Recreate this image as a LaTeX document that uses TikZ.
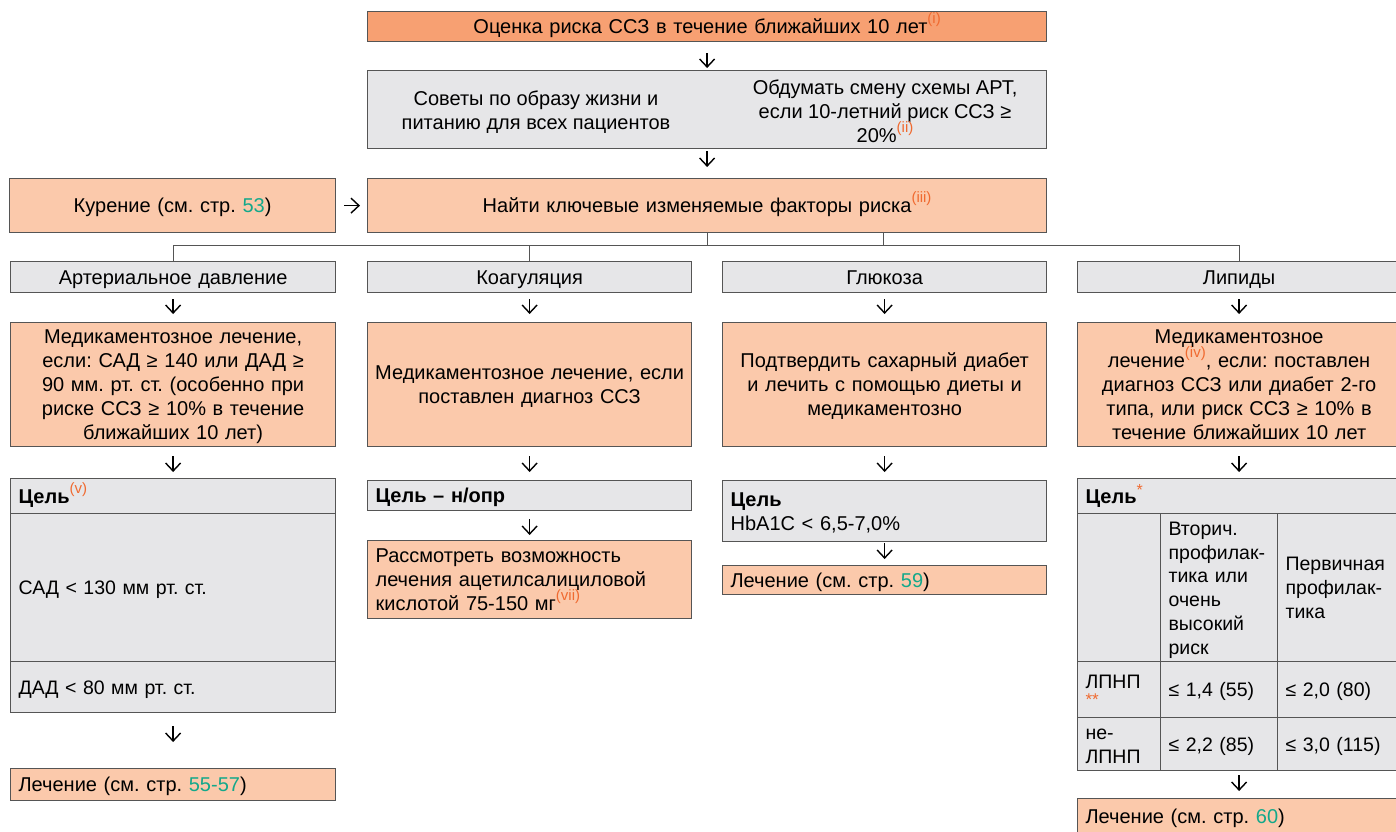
\documentclass[tikz,border=0pt]{standalone}
\usepackage{fontspec}
\setmainfont{Liberation Sans}
\usetikzlibrary{arrows.meta}
\definecolor{dorange}{HTML}{F7A072}
\definecolor{lorange}{HTML}{FBC9AB}
\definecolor{lgray}{HTML}{E6E6E8}
\definecolor{pgreen}{HTML}{13A88A}
\definecolor{supc}{HTML}{F06A30}
\definecolor{edge}{HTML}{555555}
\frenchspacing
\newcommand{\sref}[1]{\raisebox{10pt}[0pt][0pt]{\fontsize{15}{15}\selectfont\color{supc}(#1)}}
\newcommand{\pg}[1]{{\color{pgreen}#1}}
\newcommand{\bxn}[7]{%
  \pgfmathsetmacro\bxW{#5-#3}\pgfmathsetmacro\bxH{#6-#4}\pgfmathsetmacro\bxT{#5-#3-16}%
  \node[#2, text width=0pt, anchor=north west, minimum width=\bxW pt, minimum height=\bxH pt] (#1) at (#3,-#4) {};
  \node[text width=\bxT pt, #2, draw=none, fill=none, anchor=center] (#1t) at ([yshift=-2.4pt]#1.center) {\strut#7\strut};}
\begin{document}
\begin{tikzpicture}[x=1pt,y=1pt,
  base/.style={draw=edge, line width=1.2pt, inner xsep=8pt, inner ysep=0pt, font=\fontsize{20}{24}\selectfont},
  dbox/.style={base, fill=dorange, align=center},
  obox/.style={base, fill=lorange, align=center},
  gbox/.style={base, fill=lgray, align=center},
  lft/.style={align=left},
  tbl/.style={font=\fontsize{19.5}{23.8}\selectfont},
  plain/.style={inner sep=0pt, font=\fontsize{20}{24}\selectfont, align=center},
  arr/.style={draw=black, line width=1.4pt, -{Straight Barb[length=8pt,width=15pt]}},
  tree/.style={draw=edge, line width=1pt}]
\useasboundingbox (0,0) rectangle (1396,-831);

% top
\bxn{top}{dbox}{367}{11}{1046}{41}{Оценка риска ССЗ в течение ближайших 10 лет\sref{i}}
\bxn{box2}{gbox}{367}{70}{1046}{148}{}
\node[plain] (adv) at (536,-112) {Советы по образу жизни и\\питанию для всех пациентов};
\node[plain] (art) at (885,-111) {Обдумать смену схемы АРТ,\\если 10-летний риск ССЗ ≥\\20\%\sref{ii}};

\bxn{smoke}{obox}{9}{178}{335}{232}{Курение (см. стр. \pg{53})}
\bxn{find}{obox}{367}{178}{1046}{232}{Найти ключевые изменяемые факторы риска\sref{iii}}

% headers
\bxn{hA}{gbox}{10}{261}{335}{292}{Артериальное давление}
\bxn{hB}{gbox}{367}{261}{691}{292}{Коагуляция}
\bxn{hC}{gbox}{722}{261}{1046}{292}{Глюкоза}
\bxn{hD}{gbox}{1077}{261}{1400}{292}{Липиды}

% row 3
\bxn{rA}{obox}{10}{322}{335}{446}{Медикаментозное лечение,\\если: САД ≥ 140 или ДАД ≥\\90 мм. рт. ст. (особенно при\\риске ССЗ ≥ 10\% в течение\\ближайших 10 лет)}
\bxn{rB}{obox,text width=322pt}{367}{322}{691}{446}{Медикаментозное лечение, если\\поставлен диагноз ССЗ}
\bxn{rC}{obox}{722}{322}{1046}{446}{Подтвердить сахарный диабет\\и лечить с помощью диеты и\\медикаментозно}
\bxn{rD}{obox}{1077}{322}{1400}{446}{Медикаментозное\\лечение\sref{iv}, если: поставлен\\диагноз ССЗ или диабет 2-го\\типа, или риск ССЗ ≥ 10\% в\\течение ближайших 10 лет}

% column A goal
\bxn{gA}{gbox,lft}{10}{478}{335}{513}{\textbf{Цель}\sref{v}}
\bxn{gA2}{gbox,lft,tbl}{10}{513}{335}{661}{САД < 130 мм рт. ст.}
\bxn{gA3}{gbox,lft,tbl}{10}{661}{335}{712}{ДАД < 80 мм рт. ст.}
\bxn{tA}{obox,lft}{10}{768}{335}{800}{Лечение (см. стр. \pg{55-57})}

% column B
\bxn{gB}{gbox,lft}{367}{480}{691}{510}{\textbf{Цель – н/опр}}
\bxn{tB}{obox,lft}{367}{540}{691}{618}{Рассмотреть возможность\\лечения ацетилсалициловой\\кислотой 75-150 мг\sref{vii}}

% column C
\bxn{gC}{gbox,lft}{722}{480}{1046}{541}{\textbf{Цель}\\HbA1C < 6,5-7,0\%}
\bxn{tC}{obox,lft}{722}{565}{1046}{594}{Лечение (см. стр. \pg{59})}

% column D table
\bxn{gD}{gbox,lft}{1077}{478}{1400}{513}{\textbf{Цель}\raisebox{8pt}[0pt][0pt]{\fontsize{16}{16}\selectfont\color{supc}*}}
\bxn{d11}{gbox,lft,tbl}{1077}{513}{1160}{661}{}
\bxn{d12}{gbox,lft,tbl}{1160}{513}{1277}{661}{Вторич.\\профилак-\\тика или\\очень\\высокий\\риск}
\bxn{d13}{gbox,lft,tbl}{1277}{513}{1400}{661}{Первичная\\профилак-\\тика}
\bxn{d21}{gbox,lft,tbl}{1077}{661}{1160}{717}{ЛПНП\\[-7pt]{\fontsize{17}{17}\selectfont\color{supc}**}}
\bxn{d22}{gbox,lft,tbl}{1160}{661}{1277}{717}{≤ 1,4 (55)}
\bxn{d23}{gbox,lft,tbl}{1277}{661}{1400}{717}{≤ 2,0 (80)}
\bxn{d31}{gbox,lft,tbl}{1077}{717}{1160}{770}{не-\\ЛПНП}
\bxn{d32}{gbox,lft,tbl}{1160}{717}{1277}{770}{≤ 2,2 (85)}
\bxn{d33}{gbox,lft,tbl}{1277}{717}{1400}{770}{≤ 3,0 (115)}
\bxn{tD}{obox,lft}{1077}{798}{1400}{834}{Лечение (см. стр. \pg{60})}

% tree connectors
\coordinate (busL) at (173,-245);
\coordinate (fR) at ([xshift=176.5pt]find.south);
\coordinate (gDb) at (gD.south |- d31.south);
\draw[tree] (hA.north |- busL) -- (hD.north |- busL);
\draw[tree] (find.south) -- (find.south |- busL);
\draw[tree] (fR) -- (fR |- busL);
\draw[tree] (hA.north |- busL) -- (hA.north);
\draw[tree] (hB.north |- busL) -- (hB.north);
\draw[tree] (hD.north |- busL) -- (hD.north);

% arrows
\draw[arr] ([yshift=-11pt]top.south) -- ([yshift=2pt]box2.north);
\draw[arr] ([yshift=-2pt]box2.south) -- ([yshift=11pt]find.north);
\draw[arr] ([xshift=8pt]smoke.east) -- ([xshift=-7pt]find.west);
\foreach \a/\b in {hA/rA,hB/rB,hC/rC,hD/rD}{
  \draw[arr] ([yshift=-6pt]\a.south) -- ([yshift=8pt]\b.north);}
\draw[arr] ([yshift=-9pt]rA.south) -- ([yshift=6pt]gA.north);
\draw[arr] ([yshift=-9pt]rB.south) -- ([yshift=8pt]gB.north);
\draw[arr] ([yshift=-9pt]rC.south) -- ([yshift=8pt]gC.north);
\draw[arr] ([yshift=-9pt]rD.south) -- ([yshift=6pt]gD.north);
\draw[arr] ([yshift=-13pt]gA3.south) -- ([yshift=26pt]tA.north);
\draw[arr] ([yshift=-8pt]gB.south) -- ([yshift=5pt]tB.north);
\draw[arr] ([yshift=-1pt]gC.south) -- ([yshift=6pt]tC.north);
\draw[arr] ([yshift=-4pt]gDb) -- ([yshift=7pt]tD.north);
\end{tikzpicture}
\end{document}
